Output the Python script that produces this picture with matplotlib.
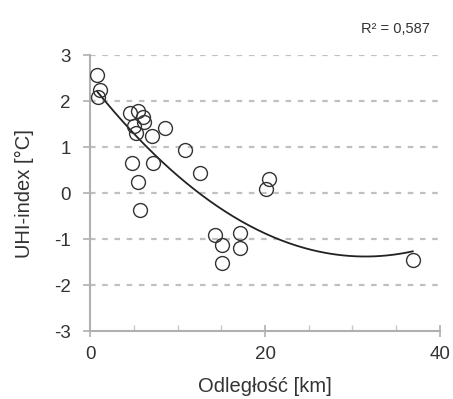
import numpy as np
import matplotlib.pyplot as plt

plt.rcParams['font.family'] = ['Liberation Sans', 'DejaVu Sans']
plt.rcParams['axes.unicode_minus'] = False

# distance from centre [km] and UHI index [degC]
distance_km = [0.8, 1.1, 0.9, 4.6, 5.5, 6.0, 6.2, 5.0, 5.2, 7.1, 8.6,
               10.9, 4.8, 7.2, 5.5, 12.6, 5.7,
               20.1, 20.5, 14.3, 17.1, 15.1, 17.1, 15.1, 36.9]
uhi_index = [2.57, 2.24, 2.09, 1.74, 1.78, 1.65, 1.55, 1.45, 1.30, 1.24, 1.42,
             0.93, 0.65, 0.65, 0.24, 0.43, -0.37,
             0.09, 0.30, -0.91, -0.87, -1.13, -1.20, -1.52, -1.46]
r2_label = 'R² = 0,587'

x = np.array(distance_km)
y = np.array(uhi_index)

fig = plt.figure(figsize=(4.53, 3.99), dpi=100)
ax = fig.add_axes([0.199, 0.170, 0.772, 0.692])

# dashed horizontal grid
for yy in range(-2, 4):
    ax.axhline(yy, color='#c0c0c0', lw=1.6, ls=(0, (2.5, 3)), zorder=0)

# second order polynomial trend
coef = np.polyfit(x, y, 2)
xs = np.linspace(x.min(), x.max(), 200)
ax.plot(xs, np.polyval(coef, xs), color='#222222', lw=1.3, zorder=2)

ax.plot(x, y, 'o', ms=10, mfc='none', mec='#333333', mew=1.0, zorder=3)

ax.set_xlim(0, 40)
ax.set_ylim(-3, 3)
ax.set_xticks([0, 20, 40])
ax.set_xticks(np.arange(5, 40, 5), minor=True)
ax.set_yticks(range(-3, 4))

for s in ['top', 'right']:
    ax.spines[s].set_visible(False)
for s in ['left', 'bottom']:
    ax.spines[s].set_color('#b0b0b0')
    ax.spines[s].set_linewidth(1.5)

ax.tick_params(axis='x', which='major', direction='inout', length=8, width=1.2,
               color='#b0b0b0', labelsize=13.5, labelcolor='#333333', pad=7)
ax.tick_params(axis='x', which='minor', direction='in', length=4, width=1.0, color='#c8c8c8')
ax.tick_params(axis='y', direction='out', length=5, width=1.2, color='#b0b0b0',
               labelsize=13.5, labelcolor='#333333', pad=9)

ax.set_xlabel('Odległość [km]', fontsize=14.5, color='#333333', labelpad=10)
ax.set_ylabel('UHI-index [°C]', fontsize=14.5, color='#333333', labelpad=14)

fig.text(0.872, 0.928, r2_label, fontsize=10.5, color='#333333', ha='center', va='center')

fig.savefig('out.png', dpi=100)
